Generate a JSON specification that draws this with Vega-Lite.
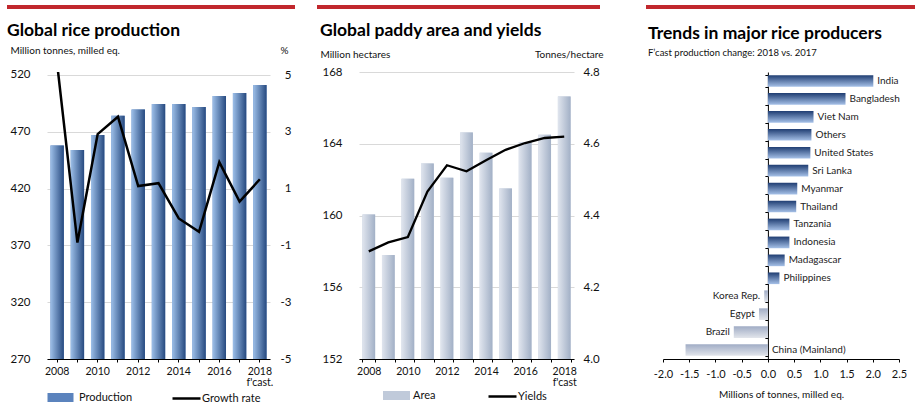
{
  "$schema": "https://vega.github.io/schema/vega-lite/v6.json",
  "background": "white",
  "padding": {"left": 7, "top": 5, "right": 0, "bottom": 0},
  "autosize": {"type": "pad"},
  "bounds": "flush",
  "spacing": 89,
  "resolve": {"scale": {"fill": "independent", "stroke": "independent"}, "legend": {"fill": "independent", "stroke": "independent"}},
  "config": {
    "font": "Lato",
    "view": {"stroke": null},
    "axis": {"labelColor": "#111", "titleColor": "#111", "labelFont": "Lato", "titleFont": "Lato", "gridColor": "#D9D9D9"},
    "legend": {"labelFont": "Lato", "labelColor": "#111"},
    "title": {"font": "Lato", "color": "#000"}
  },
  "hconcat": [
    {
      "width": 223,
      "height": 287,
      "title": {"text": "Global rice production", "anchor": "start", "frame": "bounds", "offset": -34, "fontSize": 17.5, "fontWeight": "bold"},
      "data": {"values": [
        {"year": 2008, "production": 457.8, "growth": 5.4},
        {"year": 2009, "production": 454.0, "growth": -0.9},
        {"year": 2010, "production": 467.2, "growth": 2.92},
        {"year": 2011, "production": 484.2, "growth": 3.53},
        {"year": 2012, "production": 489.5, "growth": 1.09},
        {"year": 2013, "production": 494.5, "growth": 1.19},
        {"year": 2014, "production": 494.5, "growth": -0.05},
        {"year": 2015, "production": 491.8, "growth": -0.52},
        {"year": 2016, "production": 501.5, "growth": 1.93},
        {"year": 2017, "production": 504.2, "growth": 0.54},
        {"year": 2018, "production": 511.2, "growth": 1.33}
      ]},
      "encoding": {
        "x": {"field": "year", "type": "ordinal", "scale": {"paddingInner": 0.34, "paddingOuter": 0.17},
          "axis": {"title": null, "labelAngle": 0, "labelFontSize": 10.5, "labelPadding": 4, "labelOverlap": false,
            "labelExpr": "datum.value % 2 == 0 ? (datum.value == 2018 ? ['2018', \"f'cast.\"] : datum.label) : ''",
            "labelLineHeight": 11, "domainColor": "#000", "tickColor": "#000", "tickSize": 3, "grid": false}}
      },
      "layer": [
        {"data": {"values": [{"deco": "red bar"}]}, "mark": {"type": "rect", "color": "#C1272D"},
          "encoding": {"x": {"value": -40}, "x2": {"value": 248}, "y": {"value": -67}, "y2": {"value": -63}}},
        {
          "encoding": {
            "y": {"field": "production", "type": "quantitative", "scale": {"domain": [270, 522.6], "nice": false, "zero": false},
              "axis": {"title": "Million tonnes, milled eq.", "titleAngle": 0, "titleAlign": "left", "titleBaseline": "alphabetic", "titleX": -37, "titleY": -19,
                "titleFontSize": 10, "titleFontWeight": "normal", "values": [270, 320, 370, 420, 470, 520], "grid": true, "ticks": false, "domain": false,
                "labelFontSize": 11.5, "labelPadding": 17}},
            "y2": {"datum": 270}
          },
          "layer": [
            {"mark": {"type": "bar"},
              "encoding": {
                "fill": {"datum": "Production", "scale": {"domain": ["Production"], "range": ["#5B83BD"]},
                  "legend": {"orient": "none", "legendX": 8, "legendY": 320, "title": null, "symbolSize": 100, "symbolType": "M-2.6,-0.9H2.6V0.9H-2.6Z",
                    "symbolStrokeWidth": 0, "labelFontSize": 11, "labelOffset": 13, "padding": 0}}
              }},
            {"mark": {"type": "bar", "color": {"gradient": "linear", "x1": 0, "y1": 0, "x2": 1, "y2": 0, "stops": [{"offset": 0, "color": "#9DBFE8"}, {"offset": 1, "color": "#274A80"}]}}}
          ]
        },
        {"mark": {"type": "line", "strokeWidth": 2.5, "clip": true},
          "encoding": {
            "y": {"field": "growth", "type": "quantitative", "scale": {"domain": [-5, 5.106], "nice": false, "zero": false},
              "axis": {"orient": "right", "title": "%", "titleAngle": 0, "titleAlign": "left", "titleBaseline": "alphabetic", "titleX": 10, "titleY": -19,
                "titleFontSize": 10, "titleFontWeight": "normal", "values": [-5, -3, -1, 1, 3, 5], "labelExpr": "(datum.value < 0 ? '-' : '') + abs(datum.value)",
                "grid": false, "ticks": false, "domain": false, "labelFontSize": 11.5, "labelAlign": "right", "labelPadding": 21}},
            "stroke": {"datum": "Growth rate", "scale": {"domain": ["Growth rate"], "range": ["#000000"]},
              "legend": {"orient": "none", "legendX": 133, "legendY": 320, "title": null, "symbolSize": 100, "symbolType": "M-2.8,0H2.8",
                "symbolStrokeWidth": 2.5, "labelFontSize": 11, "labelOffset": 9, "padding": 0}}
          }}
      ],
      "resolve": {"scale": {"y": "independent"}}
    },
    {
      "width": 215,
      "height": 287,
      "title": {"text": "Global paddy area and yields", "anchor": "start", "frame": "bounds", "offset": -34, "dx": 3, "fontSize": 17.5, "fontWeight": "bold"},
      "data": {"values": [
        {"year": 2008, "area": 160.05, "yields": 4.30},
        {"year": 2009, "area": 157.8, "yields": 4.325},
        {"year": 2010, "area": 162.05, "yields": 4.34},
        {"year": 2011, "area": 162.9, "yields": 4.467},
        {"year": 2012, "area": 162.1, "yields": 4.54},
        {"year": 2013, "area": 164.63, "yields": 4.523},
        {"year": 2014, "area": 163.5, "yields": 4.554},
        {"year": 2015, "area": 161.5, "yields": 4.583},
        {"year": 2016, "area": 164.1, "yields": 4.602},
        {"year": 2017, "area": 164.5, "yields": 4.616},
        {"year": 2018, "area": 166.64, "yields": 4.62}
      ]},
      "encoding": {
        "x": {"field": "year", "type": "ordinal", "scale": {"paddingInner": 0.35, "paddingOuter": 0.175},
          "axis": {"title": null, "labelAngle": 0, "labelFontSize": 10.5, "labelPadding": 4, "labelOverlap": false,
            "labelExpr": "datum.value % 2 == 0 ? (datum.value == 2018 ? ['2018', \"f'cast\"] : datum.label) : ''",
            "labelLineHeight": 11, "domainColor": "#000", "tickColor": "#000", "tickBand": "extent", "tickSize": 3, "grid": false}}
      },
      "layer": [
        {"data": {"values": [{"deco": "red bar"}]}, "mark": {"type": "rect", "color": "#C1272D"},
          "encoding": {"x": {"value": -42}, "x2": {"value": 241}, "y": {"value": -67}, "y2": {"value": -63}}},
        {
          "encoding": {
            "y": {"field": "area", "type": "quantitative", "scale": {"domain": [152, 168], "nice": false, "zero": false},
              "axis": {"title": "Million hectares", "titleAngle": 0, "titleAlign": "left", "titleBaseline": "alphabetic", "titleX": -39, "titleY": -15,
                "titleFontSize": 10, "titleFontWeight": "normal", "values": [152, 156, 160, 164, 168], "grid": true, "ticks": false, "domain": false,
                "labelFontSize": 11.5, "labelPadding": 17}},
            "y2": {"datum": 152}
          },
          "layer": [
            {"mark": {"type": "bar"},
              "encoding": {
                "fill": {"datum": "Area", "scale": {"domain": ["Area"], "range": ["#C0CADA"]},
                  "legend": {"orient": "none", "legendX": 32, "legendY": 318, "title": null, "symbolSize": 100, "symbolType": "M-2.7,-0.9H2.7V0.9H-2.7Z",
                    "symbolStrokeWidth": 0, "labelFontSize": 11, "labelOffset": 11, "padding": 0}}
              }},
            {"mark": {"type": "bar", "color": {"gradient": "linear", "x1": 0, "y1": 0, "x2": 1, "y2": 0, "stops": [{"offset": 0, "color": "#E0E5EE"}, {"offset": 1, "color": "#A2B0C6"}]}}}
          ]
        },
        {"mark": {"type": "line", "strokeWidth": 2.3},
          "encoding": {
            "y": {"field": "yields", "type": "quantitative", "scale": {"domain": [4.0, 4.8], "nice": false, "zero": false},
              "axis": {"orient": "right", "title": "Tonnes/hectare", "titleAngle": 0, "titleAlign": "right", "titleBaseline": "alphabetic", "titleX": 29, "titleY": -15,
                "titleFontSize": 10, "titleFontWeight": "normal", "values": [4.0, 4.2, 4.4, 4.6, 4.8], "format": ".1f",
                "grid": false, "ticks": false, "domain": false, "labelFontSize": 11.5, "labelPadding": 9}},
            "stroke": {"datum": "Yields", "scale": {"domain": ["Yields"], "range": ["#000000"]},
              "legend": {"orient": "none", "legendX": 137, "legendY": 318, "title": null, "symbolSize": 100, "symbolType": "M-2.8,0H2.8",
                "symbolStrokeWidth": 2.5, "labelFontSize": 11, "labelOffset": 9, "padding": 0}}
          }}
      ],
      "resolve": {"scale": {"y": "independent"}}
    },
    {
      "width": 236,
      "height": 287,
      "title": {"text": "Trends in major rice producers", "subtitle": "F’cast production change: 2018 vs. 2017", "anchor": "start", "frame": "bounds", "offset": -52, "dx": 2,
        "fontSize": 17.5, "fontWeight": "bold", "subtitleFont": "Lato", "subtitleFontSize": 9.5, "subtitleColor": "#111", "subtitlePadding": 5},
      "data": {"values": [
        {"country": "India", "value": 2.01},
        {"country": "Bangladesh", "value": 1.48},
        {"country": "Viet Nam", "value": 0.87},
        {"country": "Others", "value": 0.83},
        {"country": "United States", "value": 0.81},
        {"country": "Sri Lanka", "value": 0.77},
        {"country": "Myanmar", "value": 0.56},
        {"country": "Thailand", "value": 0.54},
        {"country": "Tanzania", "value": 0.41},
        {"country": "Indonesia", "value": 0.41},
        {"country": "Madagascar", "value": 0.32},
        {"country": "Philippines", "value": 0.22},
        {"country": "Korea Rep.", "value": -0.07},
        {"country": "Egypt", "value": -0.17},
        {"country": "Brazil", "value": -0.65},
        {"country": "China (Mainland)", "value": -1.57}
      ]},
      "encoding": {
        "y": {"field": "country", "type": "nominal", "sort": null,
          "scale": {"domain": ["India", "Bangladesh", "Viet Nam", "Others", "United States", "Sri Lanka", "Myanmar", "Thailand", "Tanzania", "Indonesia", "Madagascar", "Philippines", "Korea Rep.", "Egypt", "Brazil", "China (Mainland)"], "paddingInner": 0.35, "paddingOuter": 0.175},
          "axis": {"title": null, "labels": false, "domainColor": "#000", "tickColor": "#000", "tickBand": "extent", "tickSize": 3, "offset": -104.9, "grid": false}},
        "x": {"field": "value", "type": "quantitative", "scale": {"domain": [-2, 2.5], "nice": false},
          "axis": {"title": "Millions of tonnes, milled eq.", "values": [-2, -1.5, -1, -0.5, 0, 0.5, 1, 1.5, 2, 2.5],
            "labelExpr": "(datum.value < 0 ? '-' : '') + format(abs(datum.value), '.1f')", "grid": false, "domainColor": "#000", "tickColor": "#000",
            "tickSize": 3, "labelFontSize": 11, "labelPadding": 6, "labelFlush": false, "labelOverlap": false,
            "titleFontSize": 10, "titleFontWeight": "normal", "titlePadding": 10}}
      },
      "layer": [
        {"data": {"values": [{"deco": "red bar"}]}, "mark": {"type": "rect", "color": "#C1272D"},
          "encoding": {"x": {"value": -17}, "x2": {"value": 252}, "y": {"value": -67}, "y2": {"value": -63}}},
        {"transform": [{"filter": "datum.value >= 0"}],
          "mark": {"type": "bar", "color": {"gradient": "linear", "x1": 0, "y1": 0, "x2": 0, "y2": 1, "stops": [{"offset": 0, "color": "#1F3D72"}, {"offset": 1, "color": "#A6C1E8"}]}}},
        {"transform": [{"filter": "datum.value < 0"}],
          "mark": {"type": "bar", "color": {"gradient": "linear", "x1": 0, "y1": 0, "x2": 0, "y2": 1, "stops": [{"offset": 0, "color": "#A0ACC5"}, {"offset": 1, "color": "#E2E5EB"}]}}},
        {"transform": [{"filter": "datum.value >= 0"}],
          "mark": {"type": "text", "align": "left", "baseline": "middle", "dx": 4, "fontSize": 10, "color": "#222"},
          "encoding": {"text": {"field": "country"}}},
        {"transform": [{"filter": "datum.value < 0 && datum.value > -1"}],
          "mark": {"type": "text", "align": "right", "baseline": "middle", "dx": -4, "fontSize": 10, "color": "#222"},
          "encoding": {"text": {"field": "country"}}},
        {"transform": [{"filter": "datum.value <= -1"}],
          "mark": {"type": "text", "align": "left", "baseline": "middle", "dx": 4, "fontSize": 10, "color": "#222"},
          "encoding": {"x": {"datum": 0}, "text": {"field": "country"}}}
      ]
    }
  ]
}
